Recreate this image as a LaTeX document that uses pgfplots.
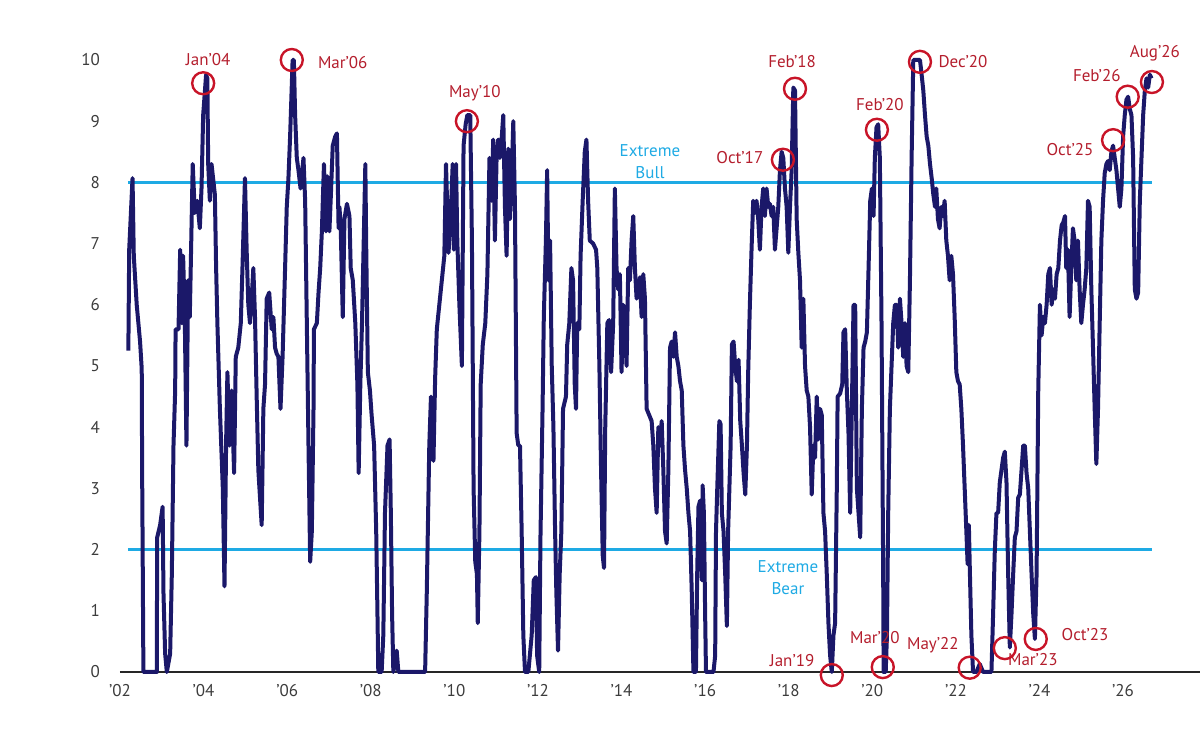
\documentclass[border=0pt]{standalone}
\usepackage{fontspec}
\setmainfont{PT Sans}
\usepackage{pgfplots}
\pgfplotsset{compat=1.18}
\definecolor{navyline}{RGB}{27,24,105}
\definecolor{extblue}{RGB}{30,170,228}
\definecolor{circred}{RGB}{200,20,40}
\definecolor{labred}{RGB}{180,30,45}
\definecolor{ticktext}{RGB}{60,60,60}
\tikzset{lbl/.style={text=labred, font=\fontsize{8.5}{10}\selectfont, inner sep=0pt}}
\begin{document}
\begin{tikzpicture}
\path[use as bounding box] (-60pt,-33pt) rectangle (540pt,336pt);
\begin{axis}[
  at={(0,0)}, anchor=south west,
  scale only axis, width=540pt, height=306pt,
  xmin=2002, xmax=2027.84, ymin=0, ymax=10,
  clip=false,
  axis line style={draw=none},
  tick style={draw=none},
  xtick={2002,2004,...,2026},
  xticklabels={'02,'04,'06,'08,'10,'12,'14,'16,'18,'20,'22,'24,'26},
  ytick={0,1,...,10},
  /pgf/number format/assume math mode=true,
  ticklabel style={font=\fontsize{8.5}{10}\selectfont, text=ticktext},
  xticklabel style={yshift=-2.5pt},
  yticklabel style={xshift=-6.5pt},
]
\draw[black!85, line width=1pt] (axis cs:2002,0) -- (axis cs:2027.84,0);
\addplot[extblue, line width=1.2pt] coordinates {(2002.19,8) (2026.69,8)};
\addplot[extblue, line width=1.2pt] coordinates {(2002.19,2) (2026.69,2)};
\addplot[navyline, line width=2pt, line join=round] coordinates {
(2002.20,5.25) (2002.22,6.9) (2002.30,8.07) (2002.33,6.8) (2002.40,6.0) (2002.48,5.4)
(2002.52,4.95) (2002.53,3.25) (2002.54,2.2) (2002.56,0) (2002.88,0) (2002.89,2.2)
(2002.96,2.4) (2003.02,2.7) (2003.04,1.3) (2003.08,0.3) (2003.12,0) (2003.20,0.3)
(2003.24,1.6) (2003.28,3.7) (2003.32,4.6) (2003.33,5.6) (2003.40,5.6) (2003.44,6.9)
(2003.48,5.7) (2003.51,6.8) (2003.55,5.8) (2003.59,3.7) (2003.63,6.4) (2003.67,5.8)
(2003.74,8.3) (2003.79,7.5) (2003.85,7.7) (2003.91,7.25) (2003.95,7.9) (2003.99,9.1)
(2004.06,9.76) (2004.09,9.7) (2004.11,8.3) (2004.15,7.7) (2004.19,8.3) (2004.27,7.8)
(2004.30,6.6) (2004.33,5.7) (2004.39,4.3) (2004.46,3.0) (2004.50,1.4) (2004.54,3.8)
(2004.57,4.9) (2004.62,3.7) (2004.67,4.6) (2004.73,3.25) (2004.77,5.15) (2004.83,5.3)
(2004.89,5.7) (2004.93,6.6) (2004.99,8.07) (2005.03,6.9) (2005.07,6.0) (2005.11,5.7)
(2005.15,6.1) (2005.19,6.6) (2005.23,5.8) (2005.27,4.5) (2005.31,3.3) (2005.39,2.4)
(2005.43,4.3) (2005.47,4.7) (2005.51,6.1) (2005.57,6.2) (2005.63,5.6) (2005.67,5.8)
(2005.71,5.3) (2005.75,5.2) (2005.79,5.15) (2005.84,4.3) (2005.89,5.15) (2005.95,6.6)
(2005.99,7.6) (2006.03,8.07) (2006.07,8.75) (2006.13,10.0) (2006.16,10.0) (2006.19,9.1)
(2006.23,8.4) (2006.27,8.2) (2006.32,7.9) (2006.39,8.4) (2006.43,7.7) (2006.47,5.7)
(2006.51,3.7) (2006.55,1.8) (2006.59,2.3) (2006.63,4.3) (2006.64,5.6) (2006.71,5.7)
(2006.75,6.2) (2006.79,6.6) (2006.83,7.2) (2006.88,8.3) (2006.93,7.2) (2006.96,8.1)
(2007.01,7.2) (2007.04,7.7) (2007.09,8.6) (2007.15,8.75) (2007.19,8.8) (2007.23,7.25)
(2007.25,7.6) (2007.28,7.3) (2007.33,5.8) (2007.37,7.4) (2007.43,7.65) (2007.49,7.45)
(2007.52,6.6) (2007.57,6.4) (2007.63,5.7) (2007.68,4.7) (2007.71,3.25) (2007.75,4.7)
(2007.79,5.7) (2007.83,7.0) (2007.87,8.3) (2007.89,7.0) (2007.93,4.9) (2007.98,4.6)
(2008.02,4.2) (2008.08,3.7) (2008.13,2.3) (2008.16,0.95) (2008.18,0) (2008.26,0)
(2008.30,0.6) (2008.34,2.6) (2008.40,3.7) (2008.45,3.8) (2008.48,2.6) (2008.51,0.95)
(2008.54,0) (2008.62,0.35) (2008.66,0) (2009.30,0) (2009.34,1.3) (2009.40,3.7)
(2009.44,4.5) (2009.50,3.45) (2009.54,4.8) (2009.58,5.6) (2009.64,6.0) (2009.70,6.4)
(2009.76,6.8) (2009.80,8.3) (2009.86,6.85) (2009.91,7.4) (2009.96,8.3) (2009.99,6.9)
(2010.04,8.3) (2010.07,7.05) (2010.12,6.0) (2010.18,5.0) (2010.22,8.6) (2010.27,8.95)
(2010.31,9.1) (2010.38,9.1) (2010.42,7.05) (2010.46,3.0) (2010.50,1.8) (2010.54,1.6)
(2010.56,0.8) (2010.60,2.3) (2010.63,4.7) (2010.68,5.35) (2010.74,5.7) (2010.79,6.5)
(2010.84,8.4) (2010.89,7.7) (2010.93,8.7) (2010.97,7.05) (2011.01,8.4) (2011.05,8.7)
(2011.09,8.4) (2011.13,8.7) (2011.17,9.1) (2011.21,7.6) (2011.25,6.8) (2011.29,8.55)
(2011.33,7.4) (2011.37,8.07) (2011.41,9.0) (2011.45,7.6) (2011.49,3.9) (2011.53,3.7)
(2011.57,3.7) (2011.61,2.3) (2011.65,0.6) (2011.69,0) (2011.77,0) (2011.85,0.6)
(2011.90,1.5) (2011.95,1.55) (2011.98,0.27) (2012.03,0) (2012.06,2.2) (2012.11,4.3)
(2012.14,5.8) (2012.19,7.05) (2012.22,8.2) (2012.25,6.4) (2012.29,7.05) (2012.33,5.0)
(2012.37,4.0) (2012.41,2.3) (2012.44,1.3) (2012.48,0.35) (2012.52,1.6) (2012.56,2.3)
(2012.60,4.3) (2012.67,4.5) (2012.70,5.35) (2012.75,5.7) (2012.80,6.6) (2012.84,6.4)
(2012.88,4.7) (2012.91,4.3) (2012.94,5.7) (2012.99,5.6) (2013.02,6.8) (2013.07,7.7)
(2013.12,8.5) (2013.16,8.7) (2013.20,7.7) (2013.24,7.05) (2013.32,7.0) (2013.39,6.9)
(2013.42,6.6) (2013.47,5.0) (2013.51,3.3) (2013.55,1.9) (2013.58,1.7) (2013.61,4.0)
(2013.66,5.7) (2013.70,5.75) (2013.75,4.9) (2013.80,5.7) (2013.84,7.9) (2013.88,6.6)
(2013.92,6.25) (2013.96,6.5) (2014.00,4.9) (2014.04,6.0) (2014.08,5.7) (2014.12,5.0)
(2014.16,6.6) (2014.20,6.4) (2014.24,7.05) (2014.28,7.45) (2014.32,6.6) (2014.36,6.1)
(2014.40,6.25) (2014.44,6.45) (2014.48,5.8) (2014.52,6.5) (2014.56,6.1) (2014.60,4.3)
(2014.66,4.2) (2014.72,4.1) (2014.76,3.7) (2014.80,3.0) (2014.84,2.6) (2014.88,4.0)
(2014.92,3.7) (2014.96,4.1) (2015.00,3.3) (2015.04,2.3) (2015.08,2.1) (2015.12,3.3)
(2015.16,5.3) (2015.20,5.4) (2015.24,5.15) (2015.28,5.55) (2015.32,5.15) (2015.36,5.0)
(2015.40,4.75) (2015.44,4.6) (2015.48,3.7) (2015.52,3.3) (2015.56,3.0) (2015.60,2.6)
(2015.64,2.3) (2015.68,1.3) (2015.72,0) (2015.78,0) (2015.81,1.6) (2015.84,2.7)
(2015.88,2.8) (2015.92,1.5) (2015.94,3.05) (2015.97,2.6) (2016.00,0.95) (2016.02,0)
(2016.20,0) (2016.24,0.27) (2016.26,2.3) (2016.29,3.0) (2016.34,4.1) (2016.37,4.05)
(2016.40,2.6) (2016.44,2.3) (2016.48,1.6) (2016.52,0.75) (2016.55,2.3) (2016.58,3.0)
(2016.61,3.7) (2016.64,5.35) (2016.68,5.4) (2016.72,5.0) (2016.76,4.75) (2016.80,5.1)
(2016.84,4.1) (2016.88,3.7) (2016.92,3.25) (2016.96,2.9) (2017.00,3.7) (2017.03,4.9)
(2017.07,6.0) (2017.11,6.9) (2017.15,7.7) (2017.19,7.5) (2017.23,7.7) (2017.27,7.4)
(2017.31,6.9) (2017.35,7.6) (2017.39,7.9) (2017.43,7.45) (2017.47,7.9) (2017.51,7.6)
(2017.55,7.65) (2017.59,7.45) (2017.63,7.6) (2017.67,6.9) (2017.71,7.25) (2017.75,7.6)
(2017.79,8.2) (2017.83,8.5) (2017.87,8.4) (2017.91,7.9) (2017.95,7.6) (2017.99,6.85)
(2018.03,7.6) (2018.07,8.2) (2018.11,9.55) (2018.15,9.5) (2018.19,7.4) (2018.23,6.85)
(2018.27,6.4) (2018.31,5.3) (2018.35,6.1) (2018.39,5.0) (2018.43,4.6) (2018.47,4.5)
(2018.51,4.0) (2018.55,2.9) (2018.59,3.7) (2018.63,3.5) (2018.67,4.5) (2018.71,3.8)
(2018.75,4.3) (2018.79,4.2) (2018.83,2.6) (2018.87,2.3) (2018.91,1.6) (2018.95,0.8)
(2018.99,0.27) (2019.03,0) (2019.07,0.6) (2019.11,0.8) (2019.15,3.0) (2019.17,4.5)
(2019.23,4.55) (2019.28,4.7) (2019.31,5.55) (2019.35,5.6) (2019.39,4.6) (2019.43,3.9)
(2019.47,2.6) (2019.51,4.3) (2019.55,6.0) (2019.59,6.0) (2019.63,3.0) (2019.67,2.6)
(2019.71,2.2) (2019.75,4.3) (2019.79,5.3) (2019.83,5.4) (2019.87,5.55) (2019.91,6.6)
(2019.95,7.7) (2019.99,7.9) (2020.03,7.45) (2020.06,8.4) (2020.10,8.9) (2020.14,8.95)
(2020.18,8.4) (2020.22,5.7) (2020.26,1.6) (2020.27,0) (2020.32,0) (2020.35,0.6)
(2020.38,2.6) (2020.42,4.3) (2020.46,5.0) (2020.50,5.7) (2020.54,6.0) (2020.58,6.0)
(2020.62,5.3) (2020.66,6.1) (2020.70,5.7) (2020.74,5.15) (2020.78,5.7) (2020.82,5.0)
(2020.86,4.9) (2020.90,6.4) (2020.94,8.4) (2020.98,10.0) (2021.14,10.0) (2021.18,9.76)
(2021.22,9.5) (2021.26,9.1) (2021.30,8.75) (2021.34,8.6) (2021.38,8.3) (2021.42,8.07)
(2021.46,7.8) (2021.50,7.6) (2021.53,7.9) (2021.57,7.4) (2021.61,7.25) (2021.65,7.6)
(2021.69,7.45) (2021.73,7.7) (2021.77,7.05) (2021.81,6.8) (2021.85,6.4) (2021.89,6.8)
(2021.93,6.5) (2021.97,5.8) (2022.01,4.9) (2022.05,4.75) (2022.09,4.7) (2022.13,4.3)
(2022.17,3.7) (2022.21,3.0) (2022.25,2.3) (2022.28,1.76) (2022.31,2.4) (2022.33,1.76)
(2022.37,0.6) (2022.41,0) (2022.49,0) (2022.57,0.13) (2022.65,0) (2022.85,0)
(2022.89,0.95) (2022.93,1.97) (2022.97,2.6) (2023.01,2.6) (2023.05,3.1) (2023.09,3.3)
(2023.13,3.5) (2023.17,3.6) (2023.21,3.1) (2023.25,1.6) (2023.29,0.4) (2023.33,0.95)
(2023.37,1.6) (2023.41,2.2) (2023.45,2.3) (2023.49,2.85) (2023.53,2.9) (2023.57,3.3)
(2023.61,3.7) (2023.65,3.7) (2023.69,3.25) (2023.73,3.0) (2023.77,2.3) (2023.81,1.6)
(2023.85,0.95) (2023.89,0.54) (2023.93,1.6) (2023.97,4.6) (2024.01,6.0) (2024.05,5.5)
(2024.09,5.8) (2024.13,5.7) (2024.17,6.0) (2024.21,6.5) (2024.25,6.6) (2024.29,6.0)
(2024.33,6.25) (2024.37,6.1) (2024.41,6.5) (2024.45,6.6) (2024.49,7.05) (2024.53,7.3)
(2024.57,7.35) (2024.61,7.45) (2024.64,6.6) (2024.68,6.9) (2024.72,5.8) (2024.76,6.6)
(2024.80,7.25) (2024.84,7.05) (2024.88,6.4) (2024.92,7.05) (2024.96,6.25) (2025.00,5.7)
(2025.04,6.0) (2025.08,6.25) (2025.12,6.6) (2025.16,7.7) (2025.20,7.6) (2025.24,6.25)
(2025.28,5.3) (2025.32,4.3) (2025.36,3.4) (2025.40,4.3) (2025.44,5.7) (2025.48,7.05)
(2025.52,7.7) (2025.56,8.15) (2025.60,8.3) (2025.64,8.35) (2025.68,8.2) (2025.72,8.5)
(2025.76,8.6) (2025.80,8.4) (2025.84,8.2) (2025.88,7.9) (2025.92,7.6) (2025.96,7.9)
(2026.00,8.75) (2026.04,9.1) (2026.08,9.35) (2026.12,9.4) (2026.16,9.2) (2026.20,9.1)
(2026.24,8.4) (2026.26,7.3) (2026.28,6.25) (2026.32,6.1) (2026.36,6.2) (2026.40,7.7)
(2026.44,8.4) (2026.48,9.1) (2026.52,9.5) (2026.56,9.7) (2026.60,9.55) (2026.64,9.76)
(2026.68,9.7)
};
\addplot[only marks, mark=o, mark size=5.5pt, circred, mark options={line width=1.2pt}] coordinates {
(2003.99,9.62) (2006.11,10.0) (2010.30,9.0) (2017.86,8.37) (2018.15,9.53) (2020.11,8.86)
(2021.14,9.97) (2019.03,-0.05) (2020.25,0.08) (2022.33,0.07) (2023.17,0.39) (2023.91,0.54)
(2025.76,8.69) (2026.11,9.4) (2026.69,9.64)
};
\node[lbl] at (axis cs:2004.11,10.0) {Jan'04};
\node[lbl] at (axis cs:2007.33,9.95) {Mar'06};
\node[lbl] at (axis cs:2010.49,9.46) {May'10};
\node[lbl] at (axis cs:2016.83,8.40) {Oct'17};
\node[lbl] at (axis cs:2018.08,9.97) {Feb'18};
\node[lbl] at (axis cs:2020.18,9.28) {Feb'20};
\node[lbl] at (axis cs:2022.17,9.97) {Dec'20};
\node[lbl] at (axis cs:2018.08,0.18) {Jan'19};
\node[lbl] at (axis cs:2020.06,0.56) {Mar'20};
\node[lbl] at (axis cs:2021.45,0.44) {May'22};
\node[lbl] at (axis cs:2023.84,0.20) {Mar'23};
\node[lbl] at (axis cs:2025.09,0.62) {Oct'23};
\node[lbl] at (axis cs:2024.73,8.53) {Oct'25};
\node[lbl] at (axis cs:2025.37,9.75) {Feb'26};
\node[lbl] at (axis cs:2026.76,10.11) {Aug'26};
\node[text=extblue, font=\fontsize{8.5}{11}\selectfont, align=center, inner sep=0pt] at (axis cs:2014.68,8.34) {Extreme\\Bull};
\node[text=extblue, font=\fontsize{8.5}{11}\selectfont, align=center, inner sep=0pt] at (axis cs:2017.98,1.54) {Extreme\\Bear};
\end{axis}
\end{tikzpicture}
\end{document}
